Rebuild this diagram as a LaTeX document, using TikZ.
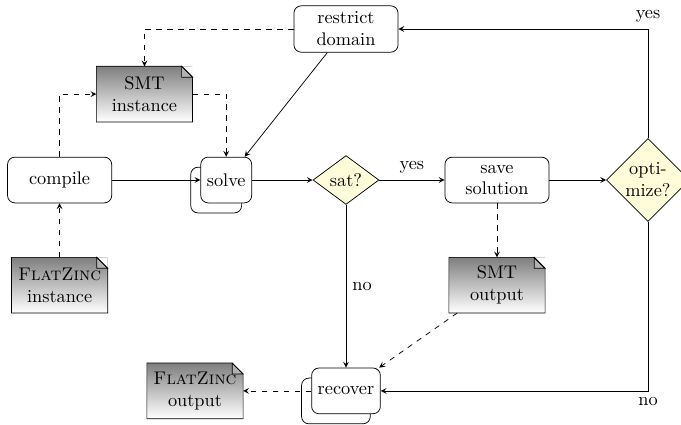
\documentclass[tikz,border=0pt]{standalone}
\usetikzlibrary{shapes.geometric,shadows}

\tikzset{
    >=stealth,
    step box/.style={draw, rounded corners, fill=white, align=center,
        minimum width=2cm, minimum height=25pt},
    multi box/.style={draw, rounded corners, fill=white, align=center,
        minimum height=25pt,
        copy shadow={shadow xshift=-5.5pt, shadow yshift=-5.5pt, draw=black, fill=white}},
    decision/.style={diamond, draw, fill=yellow!15, align=center,
        inner sep=0.5pt, minimum width=36pt},
    doc/.style={top color=gray, bottom color=white, text width=1.6cm,
        align=center, minimum height=30pt}
}

% dog-eared outline of a doc node
\newcommand{\docfold}[1]{%
    \fill[white] ([xshift=-6pt]#1.north east) -- (#1.north east) -- ([yshift=-6pt]#1.north east) -- cycle;
    \filldraw[fill=gray!60] ([xshift=-6pt]#1.north east) -- ([xshift=-6pt,yshift=-6pt]#1.north east) -- ([yshift=-6pt]#1.north east) -- cycle;
    \draw (#1.south west) -- (#1.north west) -- ([xshift=-6pt]#1.north east) -- ([yshift=-6pt]#1.north east) -- (#1.south east) -- cycle;
}

\begin{document}
\begin{tikzpicture}
            \useasboundingbox (-6.645,-4.686) rectangle (6.434,3.457);

            \node[step box] (compile) at (-5.5,0) {compile};
            \node[multi box] (solve) at (-2.3,0) {solve};
            \node[decision] (sat) at (0,0) {sat?};
            \node[step box] (save) at (2.9,0) {save\\solution};
            \node[decision] (opt) at (5.8,0) {opti-\\mize?};
            \node[step box] (restrict) at (0,2.9) {restrict\\domain};
            \node[multi box] (recover) at (0,-4.05) {recover};

            \node[doc] (smtin) at (-3.87,1.65) {SMT\\instance};
            \node[doc] (fzin) at (-5.5,-2.02) {\textsc{FlatZinc}\\instance};
            \node[doc] (smtout) at (2.9,-2.02) {SMT\\output};
            \node[doc] (fzout) at (-2.9,-4.05) {\textsc{FlatZinc}\\output};
            \docfold{smtin}
            \docfold{fzin}
            \docfold{smtout}
            \docfold{fzout}

            \path[->] (compile) edge (solve);
            \path[->] (solve) edge (sat);
            \path[->] (sat) edge node[midway,above]{yes} (save);
            \path[->] (save) edge (opt);
            \path[->] (sat) edge node[midway,right]{no} (recover);
            \path[->] (restrict) edge (solve);
            \draw[->] (opt) |- node[pos=0.5,above]{yes} (restrict);
            \draw[->] (opt) |- node[pos=0.5,below]{no} (recover);

            \draw[dashed,->] (fzin) -- (compile);
            \draw[dashed,->] (compile) |- (smtin);
            \draw[dashed,->] (smtin) -| (solve);
            \draw[dashed,->] (restrict) -| (smtin);
            \draw[dashed,->] (save) -- (smtout);
            \draw[dashed,->] (smtout) -- (recover);
            \draw[dashed,->] (recover) -- (fzout);

        \end{tikzpicture}
\end{document}
